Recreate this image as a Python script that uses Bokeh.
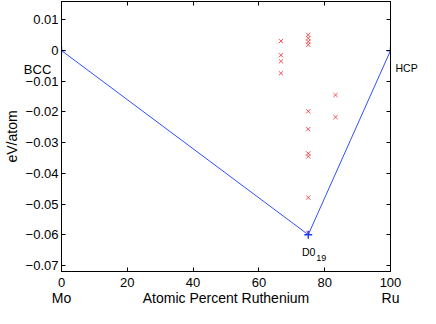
from bokeh.plotting import figure
from bokeh.models import Label, LinearAxis, FixedTicker, Range1d
from bokeh.embed import file_html
from bokeh.resources import INLINE

# Convex hull (ground states)
hull_x = [0, 75, 100]
hull_y = [0.0, -0.0600, 0.0]
hull_names = ["BCC", "D0", "HCP"]
bcc_label_y = -0.0062
hcp_label_y = -0.0057

# Other computed structures
pts_x = [66.7, 66.7, 66.7, 66.7,
         75, 75, 75, 75, 75, 75, 75, 75, 75, 75,
         83.3, 83.3]
pts_y = [0.0031, -0.0015, -0.0035, -0.0074,
         0.0051, 0.0040, 0.0029, 0.0019, -0.0198, -0.0256, -0.0335, -0.0345, -0.0479, -0.0594,
         -0.0145, -0.0217]

x_ticks = [0, 20, 40, 60, 80, 100]
y_ticks = [-0.07, -0.06, -0.05, -0.04, -0.03, -0.02, -0.01, 0, 0.01]
y_tick_labels = ["\u22120.07", "\u22120.06", "\u22120.05", "\u22120.04", "\u22120.03",
                 "\u22120.02", "\u22120.01", "0", "0.01"]
elem_pos = [0, 50, 100]
elem_labels = ["Mo", "Atomic Percent Ruthenium", "Ru"]

FONT = "Liberation Sans"

p = figure(width=420, height=308, output_backend="svg", toolbar_location=None,
           x_range=Range1d(0, 100), y_range=Range1d(-0.072, 0.016),
           y_axis_location=None,
           min_border_left=0, min_border_right=0, min_border_top=1, min_border_bottom=0)
p.grid.visible = False
p.outline_line_color = "black"
p.outline_line_width = 1

def tick_only(ticks):
    return LinearAxis(ticker=FixedTicker(ticks=ticks), major_tick_in=4, major_tick_out=0,
                      minor_tick_line_color=None, major_label_standoff=0,
                      major_tick_line_color="black", axis_line_color="black",
                      major_label_overrides={t: "" for t in ticks})

# x axis (bottom)
xa = p.xaxis[0]
xa.ticker = FixedTicker(ticks=x_ticks)
xa.major_tick_in = 4
xa.major_tick_out = 0
xa.minor_tick_line_color = None
xa.axis_line_color = "black"
xa.major_tick_line_color = "black"
xa.major_label_text_font = FONT
xa.major_label_text_font_size = "13px"
xa.major_label_text_color = "black"
xa.major_label_standoff = 6

# second row under the x axis: element names and axis title
elem_axis = LinearAxis(ticker=FixedTicker(ticks=elem_pos),
                       major_label_overrides=dict(zip(elem_pos, elem_labels)),
                       axis_line_color=None, major_tick_line_color=None,
                       minor_tick_line_color=None, major_label_standoff=0,
                       major_tick_in=0, major_tick_out=0,
                       major_label_text_font=FONT, major_label_text_font_size="14px",
                       major_label_text_color="black")
p.add_layout(elem_axis, "below")

# left: tick marks, then labelled axis (tick labels + BCC + title)
p.add_layout(tick_only(y_ticks), "left")
left_ticks = y_ticks + [bcc_label_y]
left_labels = y_tick_labels + ["BCC\u00a0\u00a0"]
ya = LinearAxis(ticker=FixedTicker(ticks=left_ticks),
                major_label_overrides=dict(zip(left_ticks, left_labels)),
                axis_line_color="black", major_tick_line_color=None,
                minor_tick_line_color=None, major_tick_in=0, major_tick_out=0,
                major_label_standoff=3,
                major_label_text_font=FONT, major_label_text_font_size="13px",
                major_label_text_color="black",
                axis_label="eV/atom", axis_label_standoff=1,
                axis_label_text_font=FONT, axis_label_text_font_size="14px",
                axis_label_text_font_style="normal", axis_label_text_color="black")
p.add_layout(ya, "left")

# top and right mirrored ticks
p.add_layout(tick_only(x_ticks), "above")
p.add_layout(tick_only(y_ticks), "right")

# right: HCP label
hcp_axis = LinearAxis(ticker=FixedTicker(ticks=[hcp_label_y]),
                      major_label_overrides={hcp_label_y: hull_names[2]},
                      axis_line_color=None, major_tick_line_color=None,
                      minor_tick_line_color=None, major_tick_in=0, major_tick_out=0,
                      major_label_standoff=5,
                      major_label_text_font=FONT, major_label_text_font_size="10.5px",
                      major_label_text_color="black")
p.add_layout(hcp_axis, "right")

# data
p.scatter(pts_x, pts_y, marker="x", size=6, line_color="#ff3b3b", line_width=0.9)
p.line(hull_x, hull_y, line_color="#2f4fff", line_width=1)
p.scatter(hull_x, hull_y, marker="cross", size=8, line_color="#1a3cff", line_width=1.4)

# D0_19 label
p.add_layout(Label(x=73.1, y=-0.0655, text=hull_names[1], text_font=FONT, text_font_size="10.5px",
                   text_align="left", text_baseline="alphabetic", text_color="black"))
p.add_layout(Label(x=77.4, y=-0.0676, text="19", text_font=FONT, text_font_size="9px",
                   text_align="left", text_baseline="alphabetic", text_color="black"))

open("out.html", "w").write(file_html(p, INLINE))
